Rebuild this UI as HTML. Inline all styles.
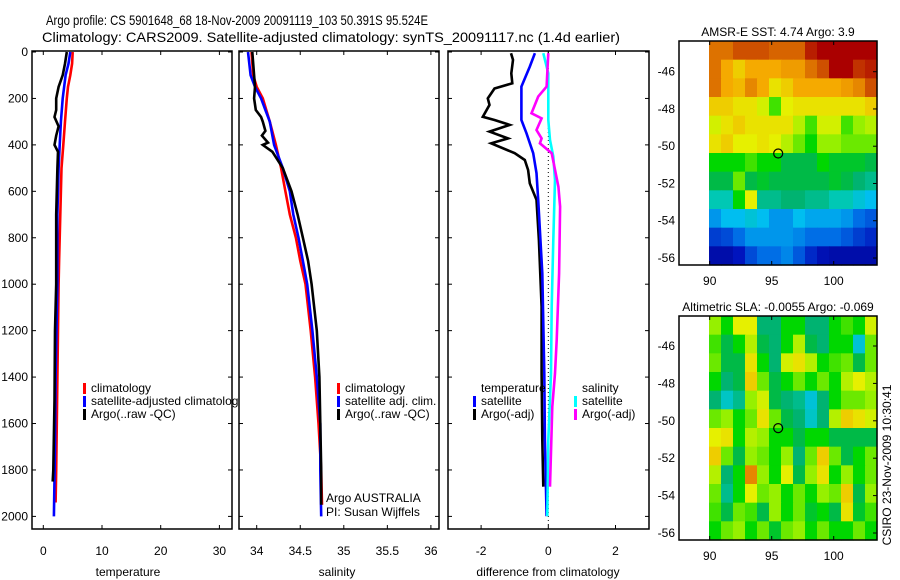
<!DOCTYPE html>
<html><head><meta charset="utf-8">
<style>
body{margin:0;background:#fff;}
svg{display:block;font-family:"Liberation Sans",sans-serif;}
text{font-size:12px;fill:#000;}
</style></head>
<body>
<svg id="fig" width="900" height="580" viewBox="0 0 900 580" xmlns="http://www.w3.org/2000/svg">
<defs><clipPath id="c1"><rect x="0" y="0" width="238" height="580"/></clipPath></defs>
<text x="46" y="25" textLength="382" lengthAdjust="spacingAndGlyphs" style="font-size:14px">Argo profile: CS 5901648_68 18-Nov-2009 20091119_103 50.391S 95.524E</text>
<text x="42" y="42" textLength="578" lengthAdjust="spacingAndGlyphs" style="font-size:14px">Climatology: CARS2009. Satellite-adjusted climatology: synTS_20091117.nc (1.4d earlier)</text>
<g id="g"></g>
</svg>
<script>
// ---- data ----
const depthTicks=[0,200,400,600,800,1000,1200,1400,1600,1800,2000];
const tempTicks=[0,10,20,30];
const salTicks=[34,34.5,35,35.5,36];
const diffTicks=[-2,0,2];
const tempClimDepth=[0,50,100,150,200,300,400,500,600,700,800,900,1000,1200,1400,1600,1800,1940];
const tempClim=[5.0,4.9,4.6,4.2,4.0,3.7,3.4,3.1,3.0,2.9,2.8,2.7,2.6,2.5,2.4,2.3,2.2,2.1];
const tempSatDepth=[0,50,100,200,300,400,500,700,1000,1400,1700,2000];
const tempSat=[4.6,4.3,3.8,3.3,3.0,2.8,2.6,2.4,2.4,2.1,2.0,1.8];
const tempArgoDepth=[0,50,100,150,200,250,280,320,360,400,430,500,700,1000,1200,1500,1800,1850];
const tempArgo=[4.0,3.7,3.3,2.6,2.2,2.2,1.9,2.6,2.2,1.9,2.5,2.4,2.2,2.2,2.0,1.9,1.7,1.6];
const salClimDepth=[0,100,150,200,300,400,500,600,700,800,900,1000,1200,1400,1600,1800,1950];
const salClim=[33.94,33.96,34.0,34.07,34.15,34.22,34.28,34.33,34.38,34.45,34.5,34.56,34.62,34.67,34.71,34.74,34.75];
const salSatDepth=[0,100,150,200,250,300,400,500,600,700,800,900,1000,1200,1400,1600,1800,2000];
const salSat=[33.9,33.93,33.98,34.05,34.1,34.15,34.2,34.3,34.38,34.42,34.48,34.53,34.58,34.64,34.69,34.73,34.73,34.74];
const salArgoDepth=[0,100,150,200,250,280,300,340,360,390,400,430,500,600,700,800,900,1000,1200,1400,1600,1800,1950];
const salArgo=[33.95,33.97,33.98,33.97,33.99,34.05,34.07,34.1,34.06,34.13,34.07,34.18,34.3,34.4,34.47,34.53,34.59,34.63,34.69,34.72,34.73,34.74,34.74];
const dTempArgoDepth=[5,34,92,135,157,200,228,279,293,314,343,372,393,436,465,508,566,637,810,1097,1384,1671,1872];
const dTempArgo=[-1.11,-1.05,-1.1,-1.07,-1.6,-1.8,-1.75,-1.95,-1.6,-1.15,-1.75,-1.2,-1.7,-1.0,-0.7,-0.6,-0.55,-0.35,-0.28,-0.2,-0.2,-0.18,-0.15];
const dTempSatDepth=[5,63,149,235,293,350,436,522,637,953,1384,1671,1999];
const dTempSat=[-0.4,-0.55,-0.8,-0.8,-0.8,-0.65,-0.45,-0.35,-0.3,-0.18,-0.12,-0.1,-0.05];
const dSalSatDepth=[5,92,192,293,379,450,551,810,1097,1384,1671,1999];
const dSalSat=[-0.15,0,0,0,0.05,0.15,0.2,0.15,0.1,0.08,0.0,-0.03];
const dSalArgoDepth=[5,149,192,264,286,336,372,393,436,580,666,953,1240,1384,1527,1872];
const dSalArgo=[0.0,-0.05,-0.3,-0.5,-0.2,-0.35,-0.2,-0.25,0.1,0.3,0.35,0.32,0.25,0.2,0.12,0.05];
const mapLatTicks=[-46,-48,-50,-52,-54,-56];
const mapLonTicks=[90,95,100];
const argoLon=95.524, argoLat=-50.391;
const sstGrid=[
[0.88,0.88,0.92,0.92,0.92,0.9,0.9,0.9,0.97,1,1,1,1,1],
[0.88,0.8,0.75,0.8,0.8,0.8,0.82,0.82,0.88,0.92,1,1,0.95,0.97],
[0.88,0.8,0.78,0.85,0.8,0.72,0.75,0.8,0.8,0.8,0.8,0.82,0.85,0.92],
[0.75,0.75,0.72,0.72,0.68,0.58,0.7,0.72,0.72,0.72,0.72,0.72,0.72,0.75],
[0.68,0.72,0.75,0.72,0.72,0.72,0.72,0.65,0.58,0.68,0.68,0.58,0.62,0.65],
[0.72,0.75,0.7,0.7,0.72,0.7,0.65,0.6,0.55,0.62,0.62,0.6,0.6,0.6],
[0.55,0.55,0.55,0.58,0.55,0.55,0.5,0.5,0.5,0.55,0.52,0.52,0.52,0.5],
[0.5,0.5,0.6,0.5,0.52,0.5,0.5,0.5,0.5,0.5,0.52,0.5,0.47,0.45],
[0.42,0.42,0.55,0.7,0.45,0.45,0.47,0.47,0.45,0.45,0.42,0.42,0.38,0.35],
[0.3,0.35,0.35,0.38,0.35,0.3,0.3,0.35,0.32,0.32,0.32,0.3,0.25,0.22],
[0.18,0.2,0.25,0.3,0.3,0.3,0.3,0.28,0.25,0.25,0.25,0.22,0.18,0.15],
[0.08,0.08,0.12,0.2,0.25,0.25,0.28,0.22,0.15,0.1,0.08,0.08,0.08,0.08]];
const slaGrid=[
[0.62,0.55,0.7,0.7,0.47,0.47,0.55,0.55,0.47,0.47,0.55,0.58,0.55,0.68],
[0.58,0.5,0.55,0.65,0.5,0.47,0.55,0.65,0.5,0.47,0.55,0.55,0.38,0.6],
[0.6,0.5,0.5,0.72,0.55,0.47,0.68,0.72,0.65,0.55,0.58,0.6,0.5,0.6],
[0.55,0.47,0.5,0.75,0.6,0.5,0.55,0.6,0.55,0.6,0.55,0.65,0.7,0.65],
[0.47,0.4,0.45,0.62,0.68,0.5,0.47,0.45,0.38,0.47,0.55,0.6,0.6,0.62],
[0.6,0.62,0.55,0.6,0.72,0.6,0.5,0.47,0.4,0.47,0.65,0.75,0.72,0.68],
[0.7,0.72,0.55,0.65,0.62,0.55,0.55,0.5,0.55,0.55,0.5,0.5,0.5,0.5],
[0.75,0.6,0.5,0.62,0.6,0.55,0.62,0.47,0.6,0.75,0.6,0.5,0.55,0.6],
[0.65,0.47,0.55,0.85,0.62,0.55,0.7,0.5,0.62,0.72,0.55,0.62,0.55,0.6],
[0.6,0.45,0.55,0.7,0.6,0.62,0.55,0.6,0.55,0.62,0.6,0.75,0.5,0.62],
[0.58,0.5,0.6,0.58,0.5,0.62,0.55,0.6,0.52,0.55,0.5,0.72,0.52,0.58],
[0.55,0.6,0.62,0.55,0.6,0.52,0.6,0.62,0.55,0.6,0.55,0.55,0.6,0.55]];

const NS="http://www.w3.org/2000/svg";
const G=document.getElementById('g');
function mk(tag,attrs,parent){const e=document.createElementNS(NS,tag);for(const k in attrs)e.setAttribute(k,attrs[k]);(parent||G).appendChild(e);return e;}
const TOP=52, DPX=0.2322, BOT=529, PTOP=51;
const yD=d=>TOP+d*DPX;
const xT=v=>43.3+v*5.87;
const xS=v=>256.7+(v-34)*87.1;
const xDf=v=>548.3+v*33.6;

function box(x0,x1,y0,y1,name){
  const r=mk('rect',{x:x0,y:y0,width:x1-x0,height:y1-y0,fill:'none',stroke:'#000','stroke-width':1.5});
  
  
}
function depthTickMarks(x0,x1,labels){
  depthTicks.forEach(d=>{
    const y=yD(d);
    const a=mk('line',{x1:x0,x2:x0+4,y1:y,y2:y,stroke:'#000'});
    
    
    const b=mk('line',{x1:x1-4,x2:x1,y1:y,y2:y,stroke:'#000'});
    
    
    if(labels){const t=mk('text',{x:x0-4,y:y+4,'text-anchor':'end'});t.textContent=d;
      
      }
  });
}
function xTickMarks(ticks,fx,y0,y1,name){
  ticks.forEach(v=>{
    const x=fx(v);
    const a=mk('line',{x1:x,x2:x,y1:y1,y2:y1-4,stroke:'#000'});
    
    
    const b=mk('line',{x1:x,x2:x,y1:y0,y2:y0+4,stroke:'#000'});
    
    
    const t=mk('text',{x:x,y:y1+26,'text-anchor':'middle'});t.textContent=v;
    
    
  });
}
function label(x,y,txt,name,anchor){
  const t=mk('text',{x:x,y:y,'text-anchor':anchor||'start'});t.textContent=txt;
  
  
  return t;
}
function line(depths,vals,fx,color,name){
  const pts=depths.map((d,i)=>fx(vals[i]).toFixed(1)+','+yD(d).toFixed(1)).join(' ');
  const p=mk('polyline',{points:pts,fill:'none',stroke:color,'stroke-width':2.6,'stroke-linejoin':'miter'});
  
  
}
function legendEntry(mx,y,color,txt,name,clip){
  if(color){const r=mk('rect',{x:mx,y:y-9,width:3,height:11,fill:color});
    
    }
  const t=label(mx+8,y,txt,name);
  if(clip)t.setAttribute('clip-path','url(#c1)');
}

// Panel 1: temperature
box(32,232,PTOP,BOT,'temperature-axes');
depthTickMarks(32,232,true);
xTickMarks(tempTicks,xT,PTOP,BOT,'temperature');
label(128,576,'temperature','x-axis-title-temperature','middle');
line(tempClimDepth,tempClim,xT,'#ff0000','temp-climatology-line');
line(tempSatDepth,tempSat,xT,'#0000ff','temp-satellite-line');
line(tempArgoDepth,tempArgo,xT,'#000000','temp-argo-line');
legendEntry(83,392,'#ff0000','climatology','legend-climatology',true);
legendEntry(83,405,'#0000ff','satellite-adjusted climatology','legend-satellite',true);
legendEntry(83,418,'#000000','Argo(..raw -QC)','legend-argo',true);

// Panel 2: salinity
box(239,439,PTOP,BOT,'salinity-axes');
depthTickMarks(239,439,false);
xTickMarks(salTicks,xS,PTOP,BOT,'salinity');
label(337,576,'salinity','x-axis-title-salinity','middle');
line(salClimDepth,salClim,xS,'#ff0000','sal-climatology-line');
line(salSatDepth,salSat,xS,'#0000ff','sal-satellite-line');
line(salArgoDepth,salArgo,xS,'#000000','sal-argo-line');
legendEntry(337,392,'#ff0000','climatology','legend-sal-climatology');
legendEntry(337,405,'#0000ff','satellite adj. clim.','legend-sal-satellite');
legendEntry(337,418,'#000000','Argo(..raw -QC)','legend-sal-argo');
label(326,502,'Argo AUSTRALIA','argo-australia-note');
label(326,516,'PI: Susan Wijffels','pi-note');

// Panel 3: difference
box(448,649,PTOP,BOT,'difference-axes');
depthTickMarks(448,649,false);
xTickMarks(diffTicks,xDf,PTOP,BOT,'difference');
label(548,576,'difference from climatology','x-axis-title-difference','middle');
const z=mk('line',{x1:xDf(0),x2:xDf(0),y1:yD(0),y2:BOT,stroke:'#000','stroke-dasharray':'1,3'});


line(dTempArgoDepth,dTempArgo,xDf,'#000000','diff-temp-argo-line');
line(dTempSatDepth,dTempSat,xDf,'#0000ff','diff-temp-satellite-line');
line(dSalSatDepth,dSalSat,xDf,'#00ffff','diff-sal-satellite-line');
line(dSalArgoDepth,dSalArgo,xDf,'#ff00ff','diff-sal-argo-line');
legendEntry(473,392,null,'temperature','legend-diff-temperature');
legendEntry(473,405,'#0000ff','satellite','legend-diff-temp-satellite');
legendEntry(473,418,'#000000','Argo(-adj)','legend-diff-temp-argo');
legendEntry(574,392,null,'salinity','legend-diff-salinity');
legendEntry(574,405,'#00ffff','satellite','legend-diff-sal-satellite');
legendEntry(574,418,'#ff00ff','Argo(-adj)','legend-diff-sal-argo');

// colormap
const cmStops=[[0,0,0,130],[0.12,0,20,190],[0.25,0,110,230],[0.35,0,190,240],[0.42,0,200,180],[0.48,0,175,100],[0.55,0,215,0],[0.62,150,240,0],[0.7,230,240,0],[0.8,245,170,0],[0.9,215,100,0],[1,170,0,0]];
function cmap(v){
  v=Math.max(0,Math.min(1,v));
  for(let i=1;i<cmStops.length;i++){
    const a=cmStops[i-1],b=cmStops[i];
    if(v<=b[0]){const t=(v-a[0])/(b[0]-a[0]);
      return 'rgb('+[1,2,3].map(k=>Math.round(a[k]+(b[k]-a[k])*t)).join(',')+')';}
  }
  return 'rgb(170,0,0)';
}
function map(top,bottom,grid,title,name,latAt46,latAt56){
  const lonX=lon=>709.7+(lon-90)*12.4;
  const latY=lat=>latAt46+(lat+46)*(latAt56-latAt46)/(-10);
  const x0=679,x1=877;
  const rows=grid.length, cols=grid[0].length;
  const cx0=709, cw=(x1-cx0)/cols, ch=(bottom-top)/rows;
  grid.forEach((row,i)=>row.forEach((v,j)=>{
    const r=mk('rect',{x:(cx0+j*cw).toFixed(2),y:(top+i*ch).toFixed(2),width:(cw+0.6).toFixed(2),height:(ch+0.6).toFixed(2),fill:cmap(v)});
    
    
  }));
  box(x0,x1,top,bottom,name+'-axes');
  mapLatTicks.forEach(l=>{
    const y=latY(l);
    const a=mk('line',{x1:x1-4,x2:x1,y1:y,y2:y,stroke:'#000'});
    
    
    label(x0-4,y+4,l,name+'-lat-label','end');
  });
  mapLonTicks.forEach(l=>{
    const x=lonX(l);
    const a=mk('line',{x1:x,x2:x,y1:top,y2:top+4,stroke:'#000'});
    
    
    const b=mk('line',{x1:x,x2:x,y1:bottom,y2:bottom-4,stroke:'#000'});
    
    
    label(x,bottom+20,l,name+'-lon-label','middle');
  });
  const c=mk('circle',{cx:lonX(argoLon),cy:latY(argoLat),r:4.5,fill:'none',stroke:'#000','stroke-width':1.2});
  
  
  label(778,top-5,title,name+'-title','middle');
}
map(41,265,sstGrid,'AMSR-E SST: 4.74 Argo: 3.9','sst-map',71.7,258);
map(316,540,slaGrid,'Altimetric SLA: -0.0055 Argo: -0.069','sla-map',346,533);
const v=mk('text',{x:0,y:0,transform:'translate(891,465) rotate(-90)','text-anchor':'middle'});
v.textContent='CSIRO 23-Nov-2009 10:30:41';


</script>
</body></html>
